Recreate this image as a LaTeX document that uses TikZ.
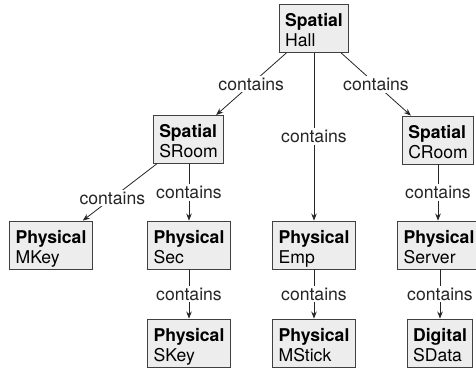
\documentclass[tikz,border=0pt]{standalone}
\usepackage{fontspec}
\setmainfont{TeX Gyre Heros}
\usetikzlibrary{arrows.meta}
\newcommand\fs{\fontsize{17.6}{20}\selectfont}
\newcommand\etxt[2]{\rule{0pt}{22pt}\textbf{#1}\\#2\rule[-6pt]{0pt}{6pt}}
\tikzset{
  ent/.style={draw=black!75, fill=black!7, line width=0.9pt, align=left,
    inner xsep=6pt, inner ysep=0pt, font=\fs},
  lbl/.style={fill=white, inner sep=2pt, font=\fs, text=black!85},
  rel/.style={-{Stealth[length=7pt,width=5.5pt]}, draw=black!85, line width=0.8pt}
}
\begin{document}
\begin{tikzpicture}[x=1pt,y=-1pt]
\clip (0,0) rectangle (476,370);
\fill[white] (0,0) rectangle (476,370);
\node[ent] (hall) at (314,28.5) {\etxt{Spatial}{Hall}};
\node[ent] (sroom) at (188.5,139.5) {\etxt{Spatial}{SRoom}};
\node[ent] (croom) at (438,140) {\etxt{Spatial}{CRoom}};
\node[ent] (mkey) at (51,245) {\etxt{Physical}{MKey}};
\node[ent] (sec) at (189,245) {\etxt{Physical}{Sec}};
\node[ent] (emp) at (314,245) {\etxt{Physical}{Emp}};
\node[ent] (server) at (439,245) {\etxt{Physical}{Server}};
\node[ent] (skey) at (189,343) {\etxt{Physical}{SKey}};
\node[ent] (mstick) at (314,343) {\etxt{Physical}{MStick}};
\node[ent] (sdata) at (440,343) {\etxt{Digital}{SData}};
\draw[rel] (hall) -- node[lbl]{contains} (sroom);
\draw[rel] (hall) -- node[lbl]{contains} (croom);
\draw[rel] (hall) -- node[lbl]{contains} (emp);
\draw[rel] (sroom) -- node[lbl,pos=0.6]{contains} (mkey);
\draw[rel] (sroom.south -| sec) -- node[lbl]{contains} (sec);
\draw[rel] (croom) -- node[lbl]{contains} (croom |- server.north);
\draw[rel] (sec) -- node[lbl]{contains} (skey);
\draw[rel] (emp) -- node[lbl]{contains} (mstick);
\draw[rel] (server.south -| sdata) -- node[lbl]{contains} (sdata);
\end{tikzpicture}
\end{document}
